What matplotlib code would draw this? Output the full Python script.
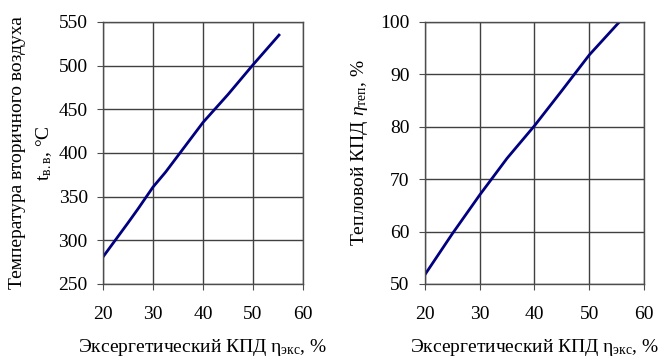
import matplotlib
matplotlib.use("Agg")
import matplotlib.pyplot as plt

plt.rcParams['font.family'] = ['Liberation Serif', 'DejaVu Serif']
plt.rcParams['mathtext.fontset'] = 'custom'
plt.rcParams['mathtext.rm'] = 'Liberation Serif'
plt.rcParams['mathtext.it'] = 'Liberation Serif:italic'

# left panel: secondary air temperature vs exergy efficiency
eta_ex_left = [20, 25, 27, 30, 32.5, 35, 40, 45, 50, 55.2]
t_air = [281, 320, 336, 361, 378, 397, 435, 467, 501, 535]

# right panel: thermal efficiency vs exergy efficiency
eta_ex_right = [20, 25, 30, 35, 40, 45, 50, 55.5]
eta_heat = [51.8, 59.6, 67.0, 74.0, 80.2, 86.9, 93.7, 100]

xticks = [20, 30, 40, 50, 60]
left_yticks = [250, 300, 350, 400, 450, 500, 550]
right_yticks = [50, 60, 70, 80, 90, 100]

xlabel = 'Эксергетический КПД η$_{\\mathrm{экс}}$, %'

fig = plt.figure(figsize=(6.59, 3.61), dpi=100)
ax1 = fig.add_axes([0.1563, 0.2133, 0.3035, 0.7258])
ax2 = fig.add_axes([0.6449, 0.2133, 0.3323, 0.7258])

def style(ax, yticks):
    ax.set_xlim(20, 60)
    ax.set_ylim(yticks[0], yticks[-1])
    ax.set_xticks(xticks)
    ax.set_yticks(yticks)
    ax.grid(True, color='0.25', lw=1)
    ax.set_axisbelow(True)
    for s in ax.spines.values():
        s.set_color('0.3')
        s.set_linewidth(1)
    ax.tick_params(direction='out', length=4, color='0.3', labelsize=14)
    ax.tick_params(axis='x', pad=12)
    ax.tick_params(axis='y', pad=7)
    ax.set_xlabel(xlabel, fontsize=14, labelpad=10)

ax1.plot(eta_ex_left, t_air, color='#000080', lw=2)
style(ax1, left_yticks)
ax1.set_ylabel('Температура вторичного воздуха\nt$_{\\mathrm{в.в}}$, °C', fontsize=14, linespacing=1.55)
ax1.yaxis.set_label_coords(-0.245, 0.5)

ax2.plot(eta_ex_right, eta_heat, color='#000080', lw=2)
style(ax2, right_yticks)
ax2.set_ylabel('Тепловой КПД $\\eta_{\\mathrm{теп}}$, %', fontsize=14)
ax2.yaxis.set_label_coords(-0.25, 0.5)

fig.savefig('out.png', dpi=100)
